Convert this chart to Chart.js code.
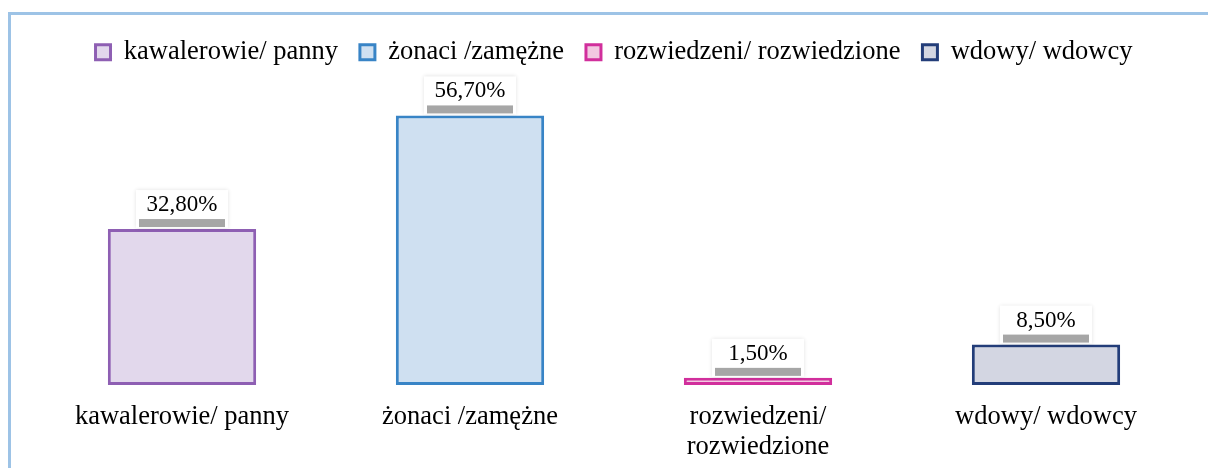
<!DOCTYPE html>
<html>
<head>
<meta charset="utf-8">
<script src="https://cdn.jsdelivr.net/npm/chart.js@4.4.1/dist/chart.umd.min.js"></script>
<style>
  html, body { margin: 0; padding: 0; background: #fff; }
  #frame {
    position: absolute; left: 8px; top: 12px; width: 1200px; height: 456px;
    border-top: 3px solid #9dc3e6; border-left: 3px solid #9dc3e6;
  }
  #chart { position: absolute; left: 0; top: 0; }
</style>
</head>
<body>
<div id="frame"></div>
<canvas id="chart" width="1208" height="468"></canvas>
<script>
// Marital status shares (percent)
const categories = ['kawalerowie/ panny', 'żonaci /zamężne', 'rozwiedzeni/ rozwiedzione', 'wdowy/ wdowcy'];
const axisLabels = ['kawalerowie/ panny', 'żonaci /zamężne', ['rozwiedzeni/', 'rozwiedzione'], 'wdowy/ wdowcy'];
const values = [32.8, 56.7, 1.5, 8.5];
const valueLabels = ['32,80%', '56,70%', '1,50%', '8,50%'];

const fills = ['#e2d8ec', '#cfe0f1', '#f2c9e1', '#d3d6e2'];
const borders = ['#8e5fb3', '#3884c6', '#d12f9c', '#233d79'];

const serif = '"Liberation Serif", "DejaVu Serif", serif';

// white tag with a gray strip above each bar
const valueTags = {
    id: 'valueTags',
    afterDatasetsDraw(chart) {
        const ctx = chart.ctx;
        const meta = chart.getDatasetMeta(0);
        ctx.save();
        meta.data.forEach((bar, i) => {
            const x = bar.x, y = bar.y - 1;
            ctx.shadowColor = 'rgba(0,0,0,0.12)';
            ctx.shadowBlur = 4;
            ctx.fillStyle = '#ffffff';
            ctx.fillRect(x - 46, y - 38, 92, 38);
            ctx.shadowBlur = 0;
            ctx.fillStyle = '#a6a6a6';
            ctx.fillRect(x - 43, y - 9, 86, 8);
            ctx.fillStyle = '#000';
            ctx.font = '23px ' + serif;
            ctx.textAlign = 'center';
            ctx.textBaseline = 'middle';
            ctx.fillText(valueLabels[i], x, y - 23);
        });
        ctx.restore();
    }
};

new Chart(document.getElementById('chart'), {
    type: 'bar',
    data: {
        labels: axisLabels,
        datasets: [{
            data: values,
            backgroundColor: fills,
            borderColor: borders,
            borderWidth: 3,
            borderSkipped: false,
            categoryPercentage: 0.515,
            barPercentage: 1
        }]
    },
    options: {
        responsive: false,
        animation: false,
        layout: { padding: { left: 38, right: 18, top: 17, bottom: 6 } },
        scales: {
            x: {
                grid: { display: false, drawTicks: false },
                border: { display: false },
                ticks: { color: '#000', font: { family: serif, size: 26.5, lineHeight: '30px' }, padding: 17, maxRotation: 0 },
                afterFit: s => { s.height = 77; }
            },
            y: {
                display: false,
                min: 0,
                max: 65.1
            }
        },
        plugins: {
            tooltip: { enabled: false },
            legend: {
                position: 'top',
                labels: {
                    color: '#000',
                    font: { family: serif, size: 26.5 },
                    boxWidth: 15,
                    boxHeight: 15,
                    padding: 22,
                    generateLabels: () => categories.map((c, i) => ({
                        text: c,
                        fillStyle: fills[i],
                        strokeStyle: borders[i],
                        lineWidth: 3,
                        fontColor: '#000',
                        index: i
                    }))
                }
            }
        }
    },
    plugins: [valueTags]
});
</script>
</body>
</html>
